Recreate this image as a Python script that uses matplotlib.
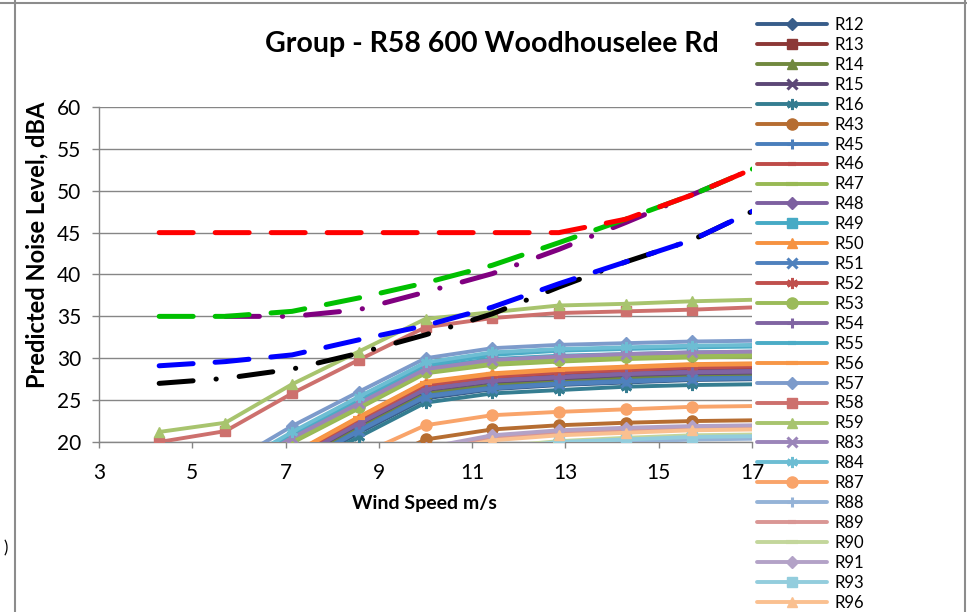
import matplotlib
matplotlib.use("Agg")
import numpy as np
import matplotlib.pyplot as plt
from matplotlib.lines import Line2D

plt.rcParams["font.family"] = ["Lato", "DejaVu Sans"]

# Vitesses de vent (m/s) standardisees
wind = [4.29, 5.71, 7.14, 8.57, 10.0, 11.43, 12.86, 14.29, 15.71, 17.14]

# Niveaux predits (dBA) pour chaque recepteur
r12 = [8.0, 10.8, 16.7, 21.1, 25.2, 26.3, 26.8, 27.1, 27.4, 27.5]
r13 = [9.0, 11.9, 18.0, 22.4, 26.6, 27.6, 28.1, 28.4, 28.7, 28.8]
r14 = [8.4, 11.3, 17.3, 21.7, 25.8, 26.8, 27.3, 27.6, 27.9, 28.0]
r15 = [8.7, 11.6, 17.7, 22.1, 26.2, 27.2, 27.6, 28.0, 28.2, 28.3]
r16 = [7.5, 10.3, 16.4, 20.6, 24.7, 25.8, 26.2, 26.6, 26.8, 26.9]
r43 = [4.0, 7.5, 11.5, 16.5, 20.3, 21.5, 22.0, 22.3, 22.5, 22.6]
r45 = [8.2, 11.1, 17.0, 21.4, 25.5, 26.5, 27.0, 27.3, 27.6, 27.7]
r46 = [9.3, 12.2, 18.3, 22.7, 26.9, 27.9, 28.4, 28.7, 29.0, 29.1]
r47 = [12.8, 15.3, 19.9, 24.0, 28.2, 29.2, 29.6, 29.9, 30.1, 30.2]
r48 = [8.9, 11.8, 17.9, 22.3, 26.4, 27.4, 27.8, 28.2, 28.4, 28.5]
r49 = [13.4, 16.0, 20.6, 24.7, 28.9, 29.9, 30.3, 30.5, 30.7, 30.8]
r50 = [9.5, 12.5, 18.6, 23.0, 27.2, 28.2, 28.7, 29.0, 29.3, 29.4]
r51 = [8.1, 11.0, 16.9, 21.3, 25.4, 26.4, 26.9, 27.2, 27.5, 27.6]
r52 = [9.2, 12.1, 18.2, 22.6, 26.8, 27.8, 28.3, 28.6, 28.9, 29.0]
r53 = [13.0, 15.5, 20.1, 24.2, 28.4, 29.4, 29.8, 30.1, 30.3, 30.4]
r54 = [8.8, 11.7, 17.8, 22.2, 26.3, 27.3, 27.7, 28.1, 28.3, 28.4]
r55 = [13.8, 16.4, 21.0, 25.1, 29.2, 30.4, 30.9, 31.1, 31.3, 31.4]
r56 = [9.4, 12.4, 18.5, 22.9, 27.1, 28.1, 28.6, 28.9, 29.2, 29.3]
r57 = [14.5, 17.2, 21.9, 26.0, 30.0, 31.2, 31.6, 31.8, 32.0, 32.1]
r58 = [20.0, 21.3, 25.8, 29.8, 33.7, 34.8, 35.4, 35.6, 35.8, 36.1]
r59 = [21.2, 22.3, 26.9, 30.8, 34.7, 35.5, 36.3, 36.5, 36.8, 37.0]
r83 = [13.3, 15.9, 20.5, 24.6, 28.7, 29.8, 30.2, 30.5, 30.7, 30.8]
r84 = [14.0, 16.6, 21.2, 25.4, 29.5, 30.7, 31.1, 31.3, 31.5, 31.6]
r87 = [6.0, 9.5, 13.5, 18.4, 22.0, 23.2, 23.6, 23.9, 24.2, 24.3]
r88 = [2.0, 5.5, 9.5, 13.2, 17.0, 18.8, 19.7, 20.0, 20.3, 20.4]
r89 = [3.3, 6.8, 10.8, 15.2, 19.0, 20.5, 21.1, 21.4, 21.7, 21.8]
r90 = [2.5, 6.0, 10.0, 14.0, 17.8, 19.4, 20.1, 20.5, 20.8, 20.9]
r91 = [3.5, 7.0, 11.0, 15.5, 19.3, 20.8, 21.4, 21.7, 21.9, 22.0]
r93 = [2.3, 5.8, 9.8, 13.6, 17.4, 19.2, 20.0, 20.3, 20.6, 20.7]
r96 = [3.0, 6.5, 10.5, 14.8, 18.6, 20.2, 20.8, 21.1, 21.4, 21.5]

# Courbes de limites
limit_45 = [45, 45, 45, 45, 45, 45, 45, 46.6, 49.5, 52.9]
limit_green = [35, 35, 35.6, 37.2, 39.0, 41.1, 43.8, 46.6, 49.5, 52.9]
limit_purple = [np.nan, 35, 35.0, 35.8, 37.9, 40.1, 43.0, 46.2, 49.5, 52.9]
limit_blue = [29.1, 29.6, 30.4, 32.2, 33.9, 36.1, 38.9, 41.5, 44.1, 47.9]
limit_black = [27.0, 27.6, 28.7, 30.6, 32.8, 35.3, 38.5, 41.5, 44.1, 47.9]

names = ["R12", "R13", "R14", "R15", "R16", "R43", "R45", "R46", "R47", "R48",
         "R49", "R50", "R51", "R52", "R53", "R54", "R55", "R56", "R57", "R58",
         "R59", "R83", "R84", "R87", "R88", "R89", "R90", "R91", "R93", "R96"]
series = [r12, r13, r14, r15, r16, r43, r45, r46, r47, r48,
          r49, r50, r51, r52, r53, r54, r55, r56, r57, r58,
          r59, r83, r84, r87, r88, r89, r90, r91, r93, r96]

colors = ["#385D8A", "#8C3836", "#71893F", "#5C4776", "#357D91", "#B66D31",
          "#4A7EBB", "#BE4B48", "#98B954", "#7D60A0", "#46AAC5", "#F69240",
          "#4F81BD", "#C0504D", "#9BBB59", "#8064A2", "#4BACC6", "#F79646",
          "#7D9BCB", "#CD706D", "#A8C46E", "#9B85B9", "#6DBDD3", "#F9A46A",
          "#95B3D7", "#D99694", "#C3D69B", "#B3A2C7", "#93CDDD", "#FAC090"]
# diamant, carre, triangle, x, etoile, rond, plus, tiret, long tiret
marker_cycle = [("D", 6.5, 1), ("s", 7, 1), ("^", 7.5, 1), ("x", 6.5, 2.2),
                ((6, 2, 0), 8, 2.0), ("o", 8, 1), ("+", 7.5, 2.2),
                ("_", 6, 3), ("_", 9, 3)]

fig = plt.figure(figsize=(9.67, 6.12), dpi=100)
ax = fig.add_axes([99 / 967, 1 - 442 / 612, 653 / 967, 335 / 612])

handles = []
for i, (name, vals) in enumerate(zip(names, series)):
    m, ms, mew = marker_cycle[i % len(marker_cycle)]
    (h,) = ax.plot(wind, vals, color=colors[i], lw=2.8, marker=m, ms=ms,
                   mew=mew, mfc=colors[i], mec=colors[i], label=name,
                   solid_capstyle="round", zorder=3)
    handles.append(h)

lw_lim = 3.6
ax.plot(wind, limit_black, color="black", lw=lw_lim, dash_capstyle="round",
        linestyle=(0, (6.8, 4.6, 0.05, 4.6)), zorder=5)
ax.plot(wind, limit_blue, color="#0000FF", lw=lw_lim, dash_capstyle="round",
        linestyle=(0, (6.8, 4.4)), zorder=5)
ax.plot(wind, limit_purple, color="#800080", lw=lw_lim, dash_capstyle="round",
        linestyle=(0, (6.8, 4.6, 0.05, 4.6)), zorder=5)
ax.plot(wind, limit_green, color="#00C000", lw=lw_lim, dash_capstyle="round",
        linestyle=(0, (6.8, 4.4)), zorder=5)
ax.plot(wind, limit_45, color="#FF0000", lw=lw_lim, dash_capstyle="round",
        linestyle=(0, (6.8, 4.4)), zorder=6)

ax.set_xlim(3, 17)
ax.set_ylim(20, 60)
ax.set_xticks(np.arange(3, 18, 2))
ax.set_yticks(np.arange(20, 61, 5))
ax.grid(axis="y", color="#868686", lw=1.0)
ax.set_axisbelow(True)
for side in ["top", "right"]:
    ax.spines[side].set_visible(False)
for side in ["left", "bottom"]:
    ax.spines[side].set_color("#868686")
    ax.spines[side].set_linewidth(1.0)
ax.tick_params(axis="y", length=5, width=1, color="#868686", pad=8,
               labelsize=15, labelcolor="black")
ax.tick_params(axis="x", length=4, width=1, color="#868686", pad=11,
               labelsize=15, labelcolor="black")

fig.text(492 / 967, 1 - 44 / 612, "Group - R58 600 Woodhouselee Rd",
         ha="center", va="center", fontsize=20.5, fontweight="bold")
fig.text(37 / 967, 1 - 245 / 612, "Predicted Noise Level, dBA", rotation=90,
         ha="center", va="center", fontsize=17, fontweight="bold")
fig.text(424 / 967, 1 - 503 / 612, "Wind Speed m/s", ha="center",
         va="center", fontsize=14, fontweight="bold")
fig.text(3 / 967, 1 - 548 / 612, ")", ha="left", va="center", fontsize=12)

leg = fig.legend(handles=handles, loc="upper left",
                 bbox_to_anchor=(752 / 967, 1 - 12 / 612), frameon=False,
                 fontsize=12, handlelength=4.2, handletextpad=0.45,
                 labelspacing=0.235, borderaxespad=0, borderpad=0.3)

# bordure de la zone graphique
fig.add_artist(Line2D([15 / 967, 15 / 967], [0, 1], color="#8C8C8C", lw=1.5))
fig.add_artist(Line2D([0, 1], [1 - 3 / 612, 1 - 3 / 612], color="#8C8C8C", lw=1.5))
fig.add_artist(Line2D([965 / 967, 965 / 967], [0, 1], color="#8C8C8C", lw=1.5))

fig.savefig("out.png", dpi=100)
